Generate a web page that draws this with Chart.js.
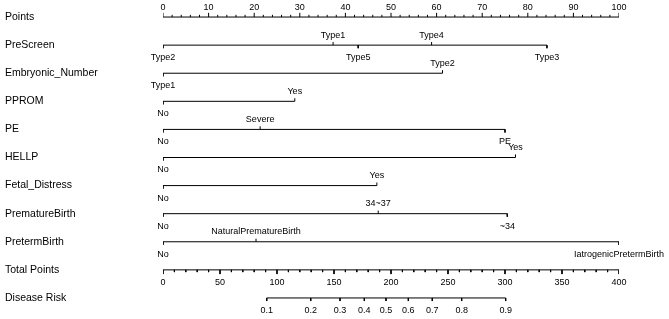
<!DOCTYPE html>
<html>
<head>
<meta charset="utf-8">
<script src="https://cdn.jsdelivr.net/npm/chart.js@4.4.1/dist/chart.umd.min.js"></script>
<style>
html, body { margin: 0; padding: 0; background: #fff; }
#wrap { width: 669px; height: 319px; }
</style>
</head>
<body>
<div id="wrap"><canvas id="nomo" width="669" height="319"></canvas></div>
<script>
// filas del nomograma (de arriba a abajo)
const rowNames = ['Points', 'PreScreen', 'Embryonic_Number', 'PPROM', 'PE', 'HELLP',
  'Fetal_Distress', 'PrematureBirth', 'PretermBirth', 'Total Points', 'Disease Risk'];

// escala de puntos 0-100
const pointsTicks = [0, 10, 20, 30, 40, 50, 60, 70, 80, 90, 100];
const pointsMinorStep = 2;

// variables: niveles y puntos
const preScreenLevels = ['Type2', 'Type1', 'Type5', 'Type4', 'Type3'];
const preScreenPoints = [0, 37.3, 42.8, 58.9, 84.2];
const embryonicLevels = ['Type1', 'Type2'];
const embryonicPoints = [0, 61.3];
const ppromLevels = ['No', 'Yes'];
const ppromPoints = [0, 28.9];
const peLevels = ['No', 'Severe', 'PE'];
const pePoints = [0, 21.3, 75.0];
const hellpLevels = ['No', 'Yes'];
const hellpPoints = [0, 77.3];
const fetalLevels = ['No', 'Yes'];
const fetalPoints = [0, 46.9];
const prematureLevels = ['No', '34~37', '~34'];
const prematurePoints = [0, 47.2, 75.5];
const pretermLevels = ['No', 'NaturalPrematureBirth', 'IatrogenicPretermBirth'];
const pretermPoints = [0, 20.4, 100];

// puntos totales y riesgo
const totalTicks = [0, 50, 100, 150, 200, 250, 300, 350, 400];
const totalMinorStep = 10;
const riskLabels = ['0.1', '0.2', '0.3', '0.4', '0.5', '0.6', '0.7', '0.8', '0.9'];
const riskTotalPoints = [91.0, 129.6, 155.3, 176.6, 195.6, 215.2, 236.2, 262.0, 300.6];

// largo de las marcas en unidades de fila
const TICK = 0.11, TICK_MAJOR = 0.15, TICK_MINOR = 0.08;

// cada fila: eje, valores, etiquetas, lado (-1 arriba, 1 abajo)
const rowSpecs = [];
rowSpecs.push({ row: 0, axis: 'x', values: pointsTicks, labels: pointsTicks.map(String),
  side: () => -1, len: TICK_MAJOR, minorStep: pointsMinorStep });
const vars = [
  [preScreenLevels, preScreenPoints], [embryonicLevels, embryonicPoints],
  [ppromLevels, ppromPoints], [peLevels, pePoints], [hellpLevels, hellpPoints],
  [fetalLevels, fetalPoints], [prematureLevels, prematurePoints], [pretermLevels, pretermPoints]
];
vars.forEach((v, k) => {
  rowSpecs.push({ row: k + 1, axis: 'x', values: v[1], labels: v[0],
    side: i => (i % 2 === 0 ? 1 : -1), len: TICK });
});
rowSpecs.push({ row: 9, axis: 'x2', values: totalTicks, labels: totalTicks.map(String),
  side: () => 1, len: TICK_MAJOR, minorStep: totalMinorStep });
rowSpecs.push({ row: 10, axis: 'x2', values: riskTotalPoints, labels: riskLabels,
  side: () => 1, len: TICK });

function buildData(spec) {
  const lo = Math.min(...spec.values), hi = Math.max(...spec.values);
  const pts = [{ x: lo, y: spec.row }, { x: hi, y: spec.row }];
  const addTick = (v, dir, len) => {
    pts.push({ x: v, y: null });
    pts.push({ x: v, y: spec.row });
    pts.push({ x: v, y: spec.row + dir * len });
  };
  spec.values.forEach((v, i) => addTick(v, spec.side(i), spec.len));
  if (spec.minorStep) {
    for (let v = lo; v <= hi; v += spec.minorStep) {
      if (!spec.values.includes(v)) addTick(v, spec.side(0), TICK_MINOR);
    }
  }
  return pts;
}

const datasets = rowSpecs.map(spec => ({
  data: buildData(spec),
  xAxisID: spec.axis,
  borderColor: '#000',
  borderWidth: 1,
  pointRadius: 0,
  spanGaps: false,
  tension: 0
}));

const labelPlugin = {
  id: 'nomoLabels',
  afterDatasetsDraw(chart) {
    const ctx = chart.ctx;
    ctx.save();
    ctx.fillStyle = '#000';
    ctx.font = '9px "Liberation Sans", Arial, sans-serif';
    ctx.textAlign = 'center';
    ctx.textBaseline = 'middle';
    rowSpecs.forEach(spec => {
      const sx = chart.scales[spec.axis];
      const y = chart.scales.y.getPixelForValue(spec.row);
      spec.values.forEach((v, i) => {
        const dir = spec.side(i);
        ctx.fillText(spec.labels[i], sx.getPixelForValue(v), y + (dir < 0 ? -10 : 12.5));
      });
    });
    ctx.restore();
  }
};

new Chart(document.getElementById('nomo'), {
  type: 'line',
  data: { datasets: datasets },
  options: {
    responsive: false,
    animation: false,
    layout: { padding: { left: 5, right: 50, top: 3, bottom: 7 } },
    plugins: { legend: { display: false }, tooltip: { enabled: false } },
    scales: {
      x: { type: 'linear', min: 0, max: 100, display: false },
      x2: { type: 'linear', min: 0, max: 400, display: false },
      y: {
        type: 'linear', reverse: true, min: -0.5, max: 10.5,
        grid: { display: false }, border: { display: false },
        afterBuildTicks: s => { s.ticks = rowNames.map((_, i) => ({ value: i })); },
        afterFit: s => { s.width = 158; s.paddingTop = 0; s.paddingBottom = 0; },
        ticks: {
          autoSkip: false, padding: 0, crossAlign: 'far', color: '#000',
          font: { family: '"Liberation Sans", Arial, sans-serif', size: 10.5 },
          callback: v => rowNames[v]
        }
      }
    }
  },
  plugins: [labelPlugin]
});
</script>
</body>
</html>
